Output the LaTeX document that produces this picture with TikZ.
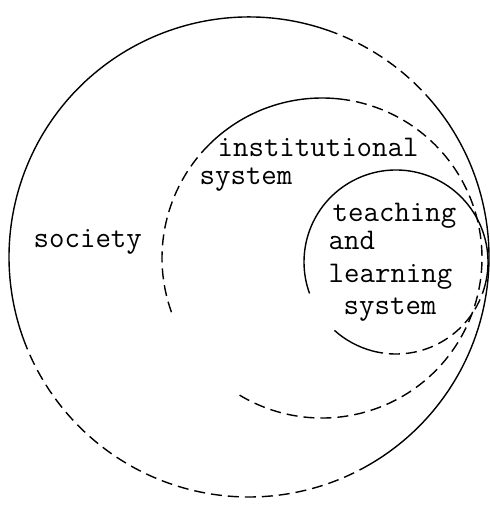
\documentclass[tikz,border=0pt]{standalone}
\usepackage{tikz}

\begin{document}
\begin{tikzpicture}[x=1pt,y=1pt,line width=1.4pt]
  % rings: outer R=240, middle R=160, inner R=92 (pt)
  \def\Ro{240pt}
  \def\Rm{160pt}
  \def\Ri{92pt}
  \tikzset{
    typed/.style={font=\fontsize{30}{30}\selectfont\ttfamily,anchor=base west,inner sep=0pt},
    broken/.style={dash pattern=on 11pt off 6pt}
  }
  \useasboundingbox (0,0) rectangle (490,507);
  \coordinate (soc) at (249,250);
  \coordinate (inst) at (322,249);
  \coordinate (tls) at (396,245);

  % society ring
  \draw (soc) ++(70:\Ro) arc[start angle=70,end angle=200,radius=\Ro];
  \draw[broken] (soc) ++(200:\Ro) arc[start angle=200,end angle=300,radius=\Ro];
  \draw (soc) ++(300:\Ro) arc[start angle=300,end angle=400,radius=\Ro];
  \draw[broken] (soc) ++(40:\Ro) arc[start angle=40,end angle=70,radius=\Ro];

  % institutional ring, open at lower left
  \draw (inst) ++(80:\Rm) arc[start angle=80,end angle=135,radius=\Rm];
  \draw[broken] (inst) ++(135:\Rm) arc[start angle=135,end angle=200,radius=\Rm];
  \draw[broken] (inst) ++(239:\Rm) arc[start angle=239,end angle=440,radius=\Rm];

  % teaching and learning ring
  \draw (tls) ++(-20:\Ri) arc[start angle=-20,end angle=200,radius=\Ri];
  \draw (tls) ++(228:\Ri) arc[start angle=228,end angle=255,radius=\Ri];
  \draw[broken] (tls) ++(255:\Ri) arc[start angle=255,end angle=340,radius=\Ri];

  % texts
  \node[typed] (society) at (33,259) {society};
  \node[typed] (inst1) at (217,350) {institutional};
  \node[typed] (inst2) at (199,322) {system};
  \node[typed] (tls1) at (332,285) {teaching};
  \node[typed] (tls2) at (328,257) {and};
  \node[typed] (tls3) at (328,224) {learning};
  \node[typed] (tls4) at (343,192) {system};
\end{tikzpicture}
\end{document}
